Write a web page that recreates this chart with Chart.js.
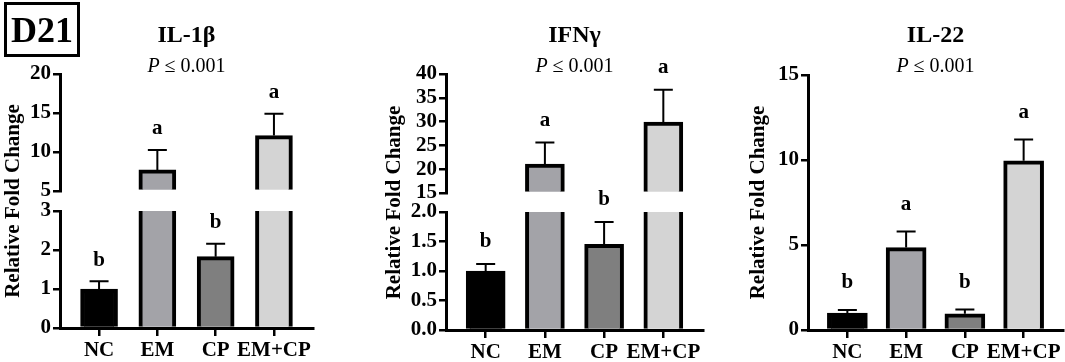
<!DOCTYPE html>
<html><head><meta charset="utf-8">
<script src="https://cdn.jsdelivr.net/npm/chart.js@4.4.0/dist/chart.umd.min.js"></script>
<style>
html,body{margin:0;padding:0;background:#fff;width:1065px;height:362px;overflow:hidden}
.p{position:absolute;top:0;height:362px}
canvas{display:block}
#d21{position:absolute;left:4px;top:2px;width:70px;height:49px;border:3px solid #000;font:bold 36px 'Liberation Serif',serif;line-height:51px;text-align:center;color:#000}
</style></head><body>
<div class="p" style="left:0;width:355px"><canvas id="c1" width="355" height="362"></canvas></div>
<div class="p" style="left:355px;width:355px"><canvas id="c2" width="355" height="362"></canvas></div>
<div class="p" style="left:710px;width:355px"><canvas id="c3" width="355" height="362"></canvas></div>
<div id="d21">D21</div>
<script>
// ---- data ----
const categories = ['NC', 'EM', 'CP', 'EM+CP'];
const barColors = ['#000000', '#a3a3a8', '#7f7f7f', '#d4d4d4'];

const il1bMean = [1.0, 7.7, 1.83, 12.1];
const il1bSem = [0.2, 2.55, 0.33, 2.8];
const il1bLetters = ['b', 'a', 'b', 'a'];
const il1bTicksTop = [5, 10, 15, 20];
const il1bTicksBottom = [0, 1, 2, 3];

const ifngMean = [1.0, 21.1, 1.45, 29.9];
const ifngSem = [0.12, 4.5, 0.38, 6.8];
const ifngLetters = ['b', 'a', 'b', 'a'];
const ifngTicksTop = [15, 20, 25, 30, 35, 40];
const ifngTicksBottom = [0, 0.5, 1.0, 1.5, 2.0];

const il22Mean = [1.0, 4.85, 0.95, 9.95];
const il22Sem = [0.18, 0.95, 0.25, 1.25];
const il22Letters = ['b', 'a', 'b', 'a'];
const il22Ticks = [0, 5, 10, 15];

const pText = '\u2264 0.001';
const yTitle = 'Relative Fold Change';

// ---- drawing ----
const SERIF = "'Liberation Serif', 'Times New Roman', serif";
const tickFont = {family: SERIF, size: 21, weight: 'bold'};

function yScale(ticks, fmt, opts) {
  return Object.assign({
    type: 'linear', position: 'left',
    min: ticks[0], max: ticks[ticks.length - 1],
    afterBuildTicks: s => { s.ticks = ticks.map(v => ({value: v})); },
    afterFit: s => { s.width = opts.axisX; },
    ticks: {font: tickFont, color: '#000', padding: 2, autoSkip: false, callback: v => fmt(v)},
    grid: {drawOnChartArea: false, drawTicks: true, tickLength: 7, lineWidth: 2.5, color: '#000'},
    border: {display: true, width: 3, color: '#000'}
  }, opts.extra || {});
}

function makePanel(id, p) {
  const fmt = p.fmt || (v => String(v));
  const scales = {
    x: {
      type: 'linear', min: -0.67, max: 3.67, offset: false,
      afterBuildTicks: s => { s.ticks = categories.map((c, i) => ({value: i})); },
      afterFit: s => { s.height = p.bottomH; },
      ticks: {font: tickFont, color: '#000', padding: 2, maxRotation: 0, autoSkip: false,
              callback: v => categories[v]},
      grid: {offset: false, drawOnChartArea: false, drawTicks: true, tickLength: 8, lineWidth: 2.5, color: '#000'},
      border: {display: true, width: 3, color: '#000'}
    }
  };
  const titleOpt = {display: true, text: yTitle, color: '#000',
    font: {family: SERIF, size: 21, weight: 'bold'}, padding: {top: p.titlePad, bottom: 0}};
  let datasets;
  if (p.broken) {
    const topMin = p.ticksTop[0];
    const botMax = p.ticksBottom[p.ticksBottom.length - 1];
    scales.yTop = yScale(p.ticksTop, fmt, {axisX: p.axisX, extra: {stack: 's', stackWeight: p.weights[0], weight: 3}});
    scales.yGap = {type: 'linear', position: 'left', min: 0, max: 1, stack: 's', stackWeight: p.weights[1], weight: 2,
      afterFit: s => { s.width = p.axisX; },
      ticks: {display: false}, grid: {display: false}, border: {display: false}, title: titleOpt};
    scales.yBot = yScale(p.ticksBottom, fmt, {axisX: p.axisX, extra: {stack: 's', stackWeight: p.weights[2], weight: 1}});
    datasets = [
      {yAxisID: 'yBot', grouped: false, barThickness: p.barW, backgroundColor: barColors, borderColor: '#000',
       data: p.mean.map((v, i) => ({x: i, y: Math.min(v, botMax)})),
       borderWidth: c => (p.mean[c.dataIndex] > botMax ? {left: 4, right: 4, top: 0, bottom: 0} : 4)},
      {yAxisID: 'yTop', grouped: false, barThickness: p.barW, backgroundColor: barColors, borderColor: '#000',
       base: topMin, borderSkipped: 'bottom', borderWidth: 4,
       data: p.mean.map((v, i) => ({x: i, y: v > topMin ? v : null}))}
    ];
  } else {
    scales.y = yScale(p.ticks, fmt, {axisX: p.axisX, extra: {title: titleOpt}});
    datasets = [{yAxisID: 'y', grouped: false, barThickness: p.barW, backgroundColor: barColors, borderColor: '#000',
      borderWidth: 4, data: p.mean.map((v, i) => ({x: i, y: v}))}];
  }

  const annot = {
    id: 'annot' + id,
    afterDatasetsDraw(chart) {
      const ctx = chart.ctx, xs = chart.scales.x;
      ctx.save();
      ctx.strokeStyle = '#000';
      ctx.fillStyle = '#000';
      p.mean.forEach((v, i) => {
        let sc;
        if (p.broken) sc = v > p.ticksBottom[p.ticksBottom.length - 1] ? chart.scales.yTop : chart.scales.yBot;
        else sc = chart.scales.y;
        const x = xs.getPixelForValue(i);
        const y0 = sc.getPixelForValue(v);
        const y1 = sc.getPixelForValue(v + p.sem[i]);
        ctx.lineWidth = 2;
        ctx.beginPath();
        ctx.moveTo(x, y0); ctx.lineTo(x, y1);
        ctx.moveTo(x - 9.5, y1); ctx.lineTo(x + 9.5, y1);
        ctx.stroke();
        ctx.font = 'bold 21px ' + SERIF;
        ctx.textAlign = 'center';
        ctx.textBaseline = 'middle';
        ctx.fillText(p.letters[i], x, y1 - p.letterOff);
      });
      // titles
      const ca = chart.chartArea;
      const cx = (ca.left + ca.right) / 2;
      ctx.font = 'bold 24px ' + SERIF;
      ctx.textAlign = 'center';
      ctx.textBaseline = 'middle';
      ctx.fillText(p.title, cx, 36);
      ctx.font = 'italic 20px ' + SERIF;
      const wP = ctx.measureText('P ').width;
      ctx.font = '20px ' + SERIF;
      const wR = ctx.measureText(pText).width;
      const sx = cx - (wP + wR) / 2;
      ctx.textAlign = 'left';
      ctx.font = 'italic 20px ' + SERIF;
      ctx.fillText('P ', sx, 67);
      ctx.font = '20px ' + SERIF;
      ctx.fillText(pText, sx + wP, 67);
      ctx.restore();
    }
  };

  return new Chart(document.getElementById(id), {
    type: 'bar',
    data: {datasets},
    options: {
      responsive: false, animation: false, devicePixelRatio: 1,
      layout: {padding: {left: 0, right: p.rightPad, top: p.top, bottom: 0}},
      plugins: {legend: {display: false}, tooltip: {enabled: false}, title: {display: false}},
      scales
    },
    plugins: [annot]
  });
}

makePanel('c1', {title: 'IL-1\u03B2', mean: il1bMean, sem: il1bSem, letters: il1bLetters, broken: true,
  ticksTop: il1bTicksTop, ticksBottom: il1bTicksBottom, weights: [117, 20, 117],
  axisX: 60, rightPad: 42, top: 74, bottomH: 34, barW: 37, titlePad: 1, letterOff: 21});
makePanel('c2', {title: 'IFN\u03B3', mean: ifngMean, sem: ifngSem, letters: ifngLetters, broken: true,
  ticksTop: ifngTicksTop, ticksBottom: ifngTicksBottom, weights: [119, 19, 118],
  fmt: v => (v >= 10 ? String(v) : v.toFixed(1)),
  axisX: 91, rightPad: 7, top: 74, bottomH: 32, barW: 39, titlePad: 27, letterOff: 22});
makePanel('c3', {title: 'IL-22', mean: il22Mean, sem: il22Sem, letters: il22Letters, broken: false,
  ticks: il22Ticks, axisX: 98, rightPad: 2, top: 75, bottomH: 32, barW: 40, titlePad: 36, letterOff: 27});
</script>
</body></html>
